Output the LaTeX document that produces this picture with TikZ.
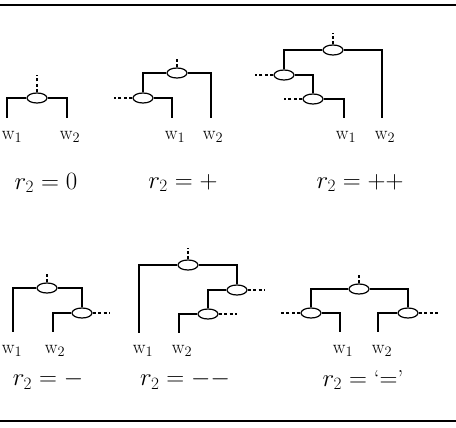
\documentclass[tikz,border=0pt]{standalone}
\usetikzlibrary{shapes.geometric}
\begin{document}
\begin{tikzpicture}[x=1pt,y=-1pt,
  junc/.style={ellipse,draw,minimum width=20pt,minimum height=10pt,inner sep=0pt,line width=1.2pt},
  wire/.style={line width=1.2pt},
  dsh/.style={line width=1.2pt,dash pattern=on 3pt off 2.5pt},
  rule/.style={line width=1.8pt},
  wlab/.style={font=\fontsize{19}{21}\selectfont,inner sep=0pt},
  rlab/.style={font=\fontsize{23}{27}\selectfont,inner sep=0pt}]
\useasboundingbox (0,0) rectangle (456,428);
% rules
\coordinate (rtl) at (0,5); \coordinate (rtr) at (456,5);
\coordinate (rbl) at (0,421); \coordinate (rbr) at (456,421);
\draw[rule] (rtl) -- (rtr);
\draw[rule] (rbl) -- (rbr);
% panel 1: r2 = 0
\node[junc] (a1) at (37,98) {};
\coordinate (a1l) at (7,118); \coordinate (a1r) at (67,118); \coordinate (a1t) at (37,75);
\draw[wire] (a1.west) -| (a1l);
\draw[wire] (a1.east) -| (a1r);
\draw[dsh] (a1.north) -- (a1t);
\node[wlab] (aw1) at (12,137) {w$_1$};
\node[wlab] (aw2) at (70,137) {w$_2$};
\node[rlab] (ar) at (46,183) {$r_2 = 0$};
% panel 2: r2 = +
\node[junc] (b1) at (177,73) {};
\node[junc] (b2) at (143,98) {};
\coordinate (b2r) at (211,118); \coordinate (b2l) at (172,118);
\coordinate (bd) at (114,98); \coordinate (bt) at (177,57);
\draw[wire] (b1.west) -| (b2.north);
\draw[wire] (b1.east) -| (b2r);
\draw[wire] (b2.east) -| (b2l);
\draw[dsh] (b2.west) -- (bd);
\draw[dsh] (b1.north) -- (bt);
\node[wlab] (bw1) at (175,137) {w$_1$};
\node[wlab] (bw2) at (213,137) {w$_2$};
\node[rlab] (br) at (183,183) {$r_2 = +$};
% panel 3: r2 = ++
\node[junc] (c1) at (333,50) {};
\node[junc] (c2) at (284,75) {};
\node[junc] (c3) at (313,99) {};
\coordinate (c1r) at (382,118); \coordinate (c3r) at (344,118);
\coordinate (cd2) at (255,75); \coordinate (cd3) at (284,99); \coordinate (ct) at (333,33);
\draw[wire] (c1.west) -| (c2.north);
\draw[wire] (c1.east) -| (c1r);
\draw[wire] (c2.east) -| (c3.north);
\draw[wire] (c3.east) -| (c3r);
\draw[dsh] (c2.west) -- (cd2);
\draw[dsh] (c3.west) -- (cd3);
\draw[dsh] (c1.north) -- (ct);
\node[wlab] (cw1) at (346,137) {w$_1$};
\node[wlab] (cw2) at (385,137) {w$_2$};
\node[rlab] (cr) at (360,183) {$r_2 = {+}{+}$};
% panel 4: r2 = -
\node[junc] (d1) at (47,288) {};
\node[junc] (d2) at (82,313) {};
\coordinate (d1l) at (13,332); \coordinate (d2l) at (53,332);
\coordinate (dd) at (110,313); \coordinate (dt) at (47,272);
\draw[wire] (d1.west) -| (d1l);
\draw[wire] (d1.east) -| (d2.north);
\draw[wire] (d2.west) -| (d2l);
\draw[dsh] (d2.east) -- (dd);
\draw[dsh] (d1.north) -- (dt);
\node[wlab] (dw1) at (12,351) {w$_1$};
\node[wlab] (dw2) at (55,351) {w$_2$};
\node[rlab] (dr) at (48,380) {$r_2 = -$};
% panel 5: r2 = --
\node[junc] (e1) at (188,265) {};
\node[junc] (e2) at (237,290) {};
\node[junc] (e3) at (208,314) {};
\coordinate (e1l) at (139,333); \coordinate (e3l) at (179,333);
\coordinate (ed2) at (265,290); \coordinate (ed3) at (237,314); \coordinate (et) at (188,248);
\draw[wire] (e1.west) -| (e1l);
\draw[wire] (e1.east) -| (e2.north);
\draw[wire] (e2.west) -| (e3.north);
\draw[wire] (e3.west) -| (e3l);
\draw[dsh] (e2.east) -- (ed2);
\draw[dsh] (e3.east) -- (ed3);
\draw[dsh] (e1.north) -- (et);
\node[wlab] (ew1) at (143,351) {w$_1$};
\node[wlab] (ew2) at (182,351) {w$_2$};
\node[rlab] (er) at (185,380) {$r_2 = {-}{-}$};
% panel 6: r2 = '='
\node[junc] (f1) at (359,289) {};
\node[junc] (f2) at (311,313) {};
\node[junc] (f3) at (408,313) {};
\coordinate (f2r) at (340,332); \coordinate (f3l) at (378,332);
\coordinate (fd2) at (281,313); \coordinate (fd3) at (438,313); \coordinate (ft) at (359,273);
\draw[wire] (f1.west) -| (f2.north);
\draw[wire] (f1.east) -| (f3.north);
\draw[wire] (f2.east) -| (f2r);
\draw[wire] (f3.west) -| (f3l);
\draw[dsh] (f2.west) -- (fd2);
\draw[dsh] (f3.east) -- (fd3);
\draw[dsh] (f1.north) -- (ft);
\node[wlab] (fw1) at (343,351) {w$_1$};
\node[wlab] (fw2) at (382,351) {w$_2$};
\node[rlab] (fr) at (363,380) {$r_2 = $ `$=$'};
\end{tikzpicture}
\end{document}
